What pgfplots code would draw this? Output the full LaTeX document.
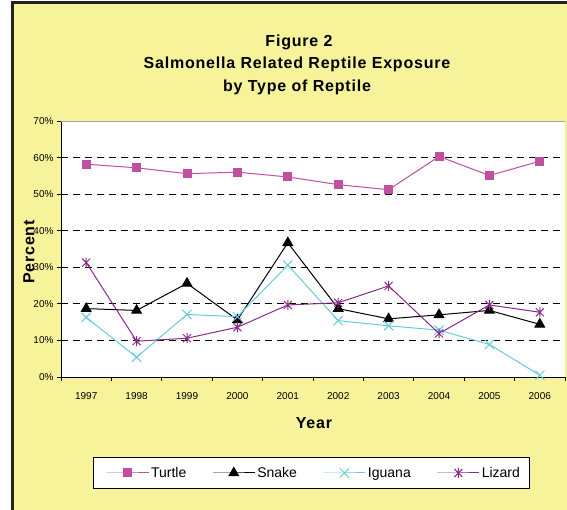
\documentclass[border=0pt]{standalone}
\usepackage{pgfplots}
\pgfplotsset{compat=1.18}
\usepackage{fontspec}
\setmainfont{Liberation Sans}
\definecolor{bgyellow}{HTML}{F7F39B}
\definecolor{turtle}{HTML}{C04FA0}
\definecolor{iguana}{HTML}{66CCDD}
\definecolor{lizard}{HTML}{8B2A8B}
\definecolor{frame}{HTML}{222222}
\pgfdeclareplotmark{xstar}{%
 \pgfpathmoveto{\pgfqpoint{0pt}{-\pgfplotmarksize}}\pgfpathlineto{\pgfqpoint{0pt}{\pgfplotmarksize}}%
 \pgfpathmoveto{\pgfqpoint{-.8\pgfplotmarksize}{-.8\pgfplotmarksize}}\pgfpathlineto{\pgfqpoint{.8\pgfplotmarksize}{.8\pgfplotmarksize}}%
 \pgfpathmoveto{\pgfqpoint{-.8\pgfplotmarksize}{.8\pgfplotmarksize}}\pgfpathlineto{\pgfqpoint{.8\pgfplotmarksize}{-.8\pgfplotmarksize}}%
 \pgfusepathqstroke}

\pgfplotstableread{
x turtle snake iguana lizard
0 58.2 18.7 16.3 31.3
1 57.2 18.2  5.4  9.8
2 55.6 25.6 17.1 10.6
3 56.0 15.6 16.5 13.6
4 54.7 36.7 30.6 19.7
5 52.6 18.7 15.4 20.3
6 51.2 15.9 14.0 24.9
7 60.3 17.0 12.8 11.9
8 55.1 18.2  8.9 19.7
9 59.0 14.4  0.5 17.7
}\datatable

\newcommand{\titlefont}{\fontsize{16}{19}\selectfont\bfseries\addfontfeature{LetterSpace=5}}

\begin{document}
\begin{tikzpicture}
\useasboundingbox (0,0) rectangle (567pt,510pt);
\fill[white] (0,0) rectangle (567pt,510pt);
\fill[bgyellow] (11pt,0) rectangle (567pt,509pt);
\draw[frame, line width=3pt] (12.5pt,0) -- (12.5pt,507.2pt) -- (567pt,507.2pt);

\node[font=\titlefont] at (299pt,468pt) {Figure 2};
\node[font=\titlefont] at (297pt,446pt) {Salmonella Related Reptile Exposure};
\node[font=\titlefont] at (297pt,423pt) {by Type of Reptile};

\begin{axis}[
  at={(61pt,133pt)}, anchor=south west, scale only axis,
  width=504pt, height=256pt,
  xmin=-0.5, xmax=9.5, ymin=0, ymax=70,
  axis x line*=bottom, axis y line*=left,
  axis line style={black, line width=0.8pt},
  axis background/.style={fill=white},
  xtick={0,...,9},
  xticklabels={1997,1998,1999,2000,2001,2002,2003,2004,2005,2006},
  every major x tick/.append style={draw=none},
  minor xtick={-0.5,0.5,...,9.5},
  ytick={0,10,...,70},
  yticklabels={0\%,10\%,20\%,30\%,40\%,50\%,60\%,70\%},
  tick align=outside, major tick length=4pt, minor tick length=4pt,
  tick style={black, line width=0.8pt},
  ymajorgrids, grid style={black, dash pattern=on 7pt off 5pt, line width=0.8pt},
  ticklabel style={font=\fontsize{10}{12}\selectfont},
  xticklabel style={yshift=-8pt},
  legend columns=4,
  legend style={at={(0.496,-0.375)}, anchor=center, draw=black, fill=white,
    line width=0.8pt, font=\fontsize{14}{16}\selectfont,
    inner xsep=7pt, inner ysep=8pt,
    /tikz/every even column/.append style={column sep=18pt}},
  legend image code/.code={\path (-6pt,0pt); \draw[mark repeat=2,mark phase=2] plot coordinates {(0pt,0pt) (21pt,0pt) (42pt,0pt)};},
]
\draw[gray!70, line width=0.8pt] (rel axis cs:0,1) -- (rel axis cs:1,1) -- (rel axis cs:1,0);
\addplot[turtle, line width=1pt, mark=square*, mark size=4pt, mark options={solid}] table[x=x,y=turtle] {\datatable};
\addlegendentry{Turtle}
\addplot[black, line width=1pt, mark=triangle*, mark size=5.5pt] table[x=x,y=snake] {\datatable};
\addlegendentry{Snake}
\addplot[iguana, line width=1pt, mark=x, mark size=6.5pt] table[x=x,y=iguana] {\datatable};
\addlegendentry{Iguana}
\addplot[lizard, line width=1pt, mark=xstar, mark size=5pt] table[x=x,y=lizard] {\datatable};
\addlegendentry{Lizard}
\end{axis}

\node[font=\titlefont] at (314pt,87pt) {Year};
\node[font=\titlefont, rotate=90] at (29pt,258pt) {Percent};
\end{tikzpicture}
\end{document}
